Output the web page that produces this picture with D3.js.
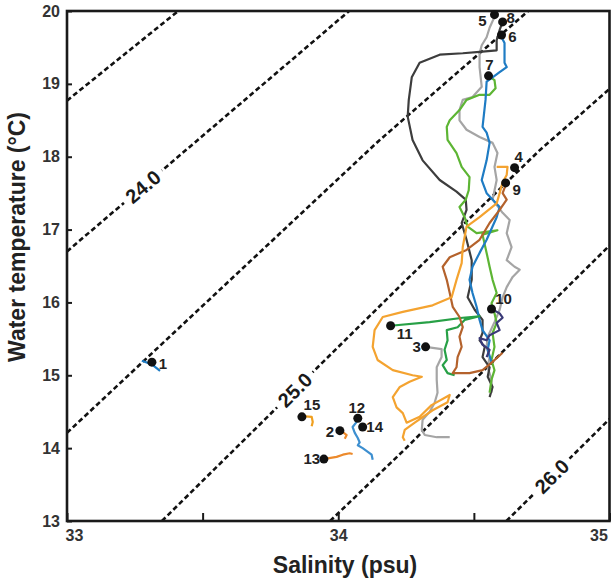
<!DOCTYPE html>
<html>
<head>
<meta charset="utf-8">
<script src="https://cdn.jsdelivr.net/npm/d3@7"></script>
<style>
  body { margin: 0; background: #fff; }
  svg { display: block; font-family: "Liberation Sans", Arial, sans-serif; }
</style>
</head>
<body>
<svg id="chart" width="611" height="578"></svg>
<script>
// axis ticks
const salTicks = [33, 33.5, 34, 34.5, 35];
const tempTicks = [13, 14, 15, 16, 17, 18, 19, 20];

// sigma-t isopycnals, [salinity, temperature]
const isoLevels = ['23.5', '24.0', '24.5', '25.0', '25.5', '26.0'];
const iso235 = [[33, 18.77], [33.41, 20]];
const iso240 = [[33, 16.70], [34.04, 20]];
const iso245 = [[33, 14.21], [34.15, 18.22], [34.53, 19.45], [34.70, 20]];
const iso250 = [[33.35, 13], [34.24, 16.27], [34.74, 18.08], [35, 18.93]];
const iso255 = [[33.97, 13], [34.25, 14.0], [34.85, 16.23], [35, 16.78]];
const iso260 = [[34.62, 13], [35, 14.40]];
const isoLabelled = ['24.0', '25.0', '26.0'];
const isoLabelSal = [33.28, 33.84, 34.787];

// station surface points
const stations = ['1','2','3','4','5','6','7','8','9','10','11','12','13','14','15'];
const dotSal  = [33.313, 34.006, 34.322, 34.650, 34.576, 34.602, 34.554, 34.606, 34.617, 34.565, 34.193, 34.072, 33.947, 34.090, 33.866];
const dotTemp = [15.18, 14.24, 15.39, 17.85, 19.95, 19.67, 19.11, 19.85, 17.64, 15.91, 15.68, 14.41, 13.85, 14.29, 14.43];

// T-S profiles
const prof1 = [[33.276,15.20],[33.313,15.15],[33.343,15.06]];
const prof2 = [[34.017,14.22],[34.031,14.18],[34.024,14.13]];
const prof3 = [[34.322,15.39],[34.381,15.36],[34.381,15.25],[34.363,15.11],[34.363,14.94],[34.366,14.76],[34.355,14.62],[34.337,14.50],[34.311,14.39],[34.308,14.25],[34.319,14.18],[34.363,14.15],[34.411,14.15]];
const prof4 = [[34.584,17.86],[34.624,17.86],[34.621,17.75],[34.606,17.65],[34.595,17.50],[34.584,17.36],[34.521,17.17],[34.473,17.04],[34.459,16.76],[34.455,16.54],[34.436,16.31],[34.418,16.07],[34.348,15.96],[34.238,15.87],[34.164,15.80],[34.134,15.62],[34.127,15.39],[34.145,15.21],[34.201,15.07],[34.274,15.00],[34.308,14.98],[34.263,14.91],[34.227,14.84],[34.201,14.70],[34.215,14.56],[34.238,14.48],[34.252,14.35],[34.300,14.43],[34.344,14.59],[34.411,14.73],[34.403,14.63],[34.348,14.52],[34.282,14.35],[34.245,14.25],[34.238,14.15],[34.245,14.10]];
const prof5 = [[34.576,19.92],[34.558,19.77],[34.547,19.64],[34.529,19.53],[34.521,19.42],[34.521,19.23],[34.529,18.96],[34.495,18.82],[34.459,18.78],[34.447,18.64],[34.447,18.50],[34.473,18.37],[34.521,18.27],[34.569,18.19],[34.587,18.05],[34.576,17.86],[34.584,17.68],[34.569,17.41],[34.606,17.23],[34.632,17.13],[34.621,16.95],[34.639,16.76],[34.621,16.58],[34.650,16.49],[34.669,16.45],[34.643,16.35],[34.621,16.21],[34.606,16.07],[34.595,15.90],[34.576,15.73],[34.551,15.53],[34.547,15.39],[34.558,15.25],[34.551,15.11],[34.565,14.94],[34.565,14.76]];
const prof6 = [[34.602,19.64],[34.613,19.56],[34.613,19.40],[34.613,19.29],[34.621,19.23],[34.595,19.16],[34.569,19.09],[34.547,19.03],[34.543,18.78],[34.532,18.41],[34.547,18.33],[34.558,18.19],[34.547,17.95],[34.529,17.68],[34.547,17.50],[34.595,17.31],[34.584,17.17],[34.547,16.86],[34.521,16.68],[34.495,16.49],[34.484,16.31],[34.495,16.13],[34.510,15.94],[34.521,15.76],[34.532,15.62],[34.558,15.48],[34.551,15.35],[34.565,15.18]];
const prof7 = [[34.554,19.11],[34.576,19.05],[34.580,18.94],[34.558,18.85],[34.521,18.85],[34.473,18.78],[34.447,18.64],[34.411,18.50],[34.400,18.41],[34.403,18.23],[34.436,18.05],[34.455,17.86],[34.484,17.72],[34.481,17.54],[34.470,17.41],[34.447,17.31],[34.466,17.17],[34.477,17.04],[34.510,16.95],[34.587,16.99],[34.532,16.93],[34.547,16.68],[34.558,16.49],[34.569,16.31],[34.584,16.13],[34.565,15.99],[34.576,15.85],[34.584,15.72],[34.569,15.58],[34.576,15.39],[34.565,15.21],[34.576,15.07],[34.565,14.94],[34.558,14.76]];
const prof8 = [[34.606,19.85],[34.595,19.74],[34.584,19.60],[34.584,19.46],[34.521,19.44],[34.459,19.42],[34.374,19.40],[34.300,19.29],[34.271,19.09],[34.260,18.78],[34.256,18.55],[34.274,18.23],[34.311,17.95],[34.374,17.68],[34.436,17.52],[34.470,17.41],[34.473,17.27],[34.455,17.09],[34.473,16.86],[34.492,16.58],[34.492,16.31],[34.477,16.07],[34.503,15.90],[34.532,15.76],[34.532,15.58],[34.521,15.48],[34.540,15.39],[34.532,15.25],[34.558,15.11],[34.551,14.98],[34.569,14.84],[34.558,14.70]];
const prof9 = [[34.617,17.61],[34.606,17.50],[34.621,17.41],[34.595,17.27],[34.558,17.09],[34.521,16.86],[34.473,16.72],[34.411,16.62],[34.385,16.49],[34.400,16.31],[34.411,16.13],[34.422,15.94],[34.447,15.80],[34.459,15.66],[34.447,15.53],[34.455,15.39],[34.440,15.25],[34.436,15.11],[34.422,15.03],[34.484,15.03],[34.532,15.07],[34.558,15.15],[34.606,15.31]];
const prof10 = [[34.565,15.91],[34.595,15.85],[34.606,15.79],[34.584,15.72],[34.595,15.62],[34.558,15.55],[34.547,15.48],[34.521,15.51],[34.532,15.42],[34.558,15.35],[34.547,15.25]];
const prof11 = [[34.193,15.68],[34.337,15.73],[34.459,15.79],[34.521,15.81],[34.466,15.76],[34.440,15.66],[34.400,15.62],[34.403,15.48],[34.392,15.35],[34.400,15.21],[34.385,15.14],[34.403,15.03],[34.429,15.00]];
const prof12 = [[34.068,14.36],[34.053,14.29],[34.061,14.21],[34.072,14.14],[34.079,14.08],[34.072,14.04],[34.090,14.00],[34.109,13.95],[34.123,13.91],[34.127,13.84]];
const prof13 = [[33.961,13.86],[33.994,13.88],[34.017,13.91],[34.042,13.93],[34.053,13.92]];
const prof15 = [[33.866,14.44],[33.902,14.43],[33.906,14.36],[33.902,14.30]];

function whenDocumentLoaded(action) {
  if (document.readyState === "loading") {
    document.addEventListener("DOMContentLoaded", action);
  } else {
    action();
  }
}

function drawChart() {
  const svg = d3.select('#chart');
  const left = 67, right = 609.5, top = 11, bottom = 521;

  const x = d3.scaleLinear().domain([33, 35]).range([left, right]);
  const y = d3.scaleLinear().domain([13, 20]).range([bottom, top]);
  const line = d3.line().x(d => x(d[0])).y(d => y(d[1]));

  svg.append('clipPath').attr('id', 'plot-clip')
    .append('rect')
    .attr('x', left).attr('y', top)
    .attr('width', right - left).attr('height', bottom - top);

  const plot = svg.append('g').attr('clip-path', 'url(#plot-clip)');

  // isopycnals
  const isoLines = [iso235, iso240, iso245, iso250, iso255, iso260];
  plot.selectAll('path.iso')
    .data(isoLines)
    .join('path')
    .attr('class', 'iso')
    .attr('d', line)
    .attr('fill', 'none')
    .attr('stroke', '#111')
    .attr('stroke-width', 2.6)
    .attr('stroke-dasharray', '5,3');

  // labels on isopycnals, with a white gap in the line
  isoLabelled.forEach((lab, i) => {
    const pts = isoLines[isoLevels.indexOf(lab)];
    const s = isoLabelSal[i];
    let k = 0;
    while (k < pts.length - 2 && pts[k + 1][0] < s) k++;
    const a = pts[k], b = pts[k + 1];
    const t = a[1] + (b[1] - a[1]) * (s - a[0]) / (b[0] - a[0]);
    const ang = Math.atan2(y(b[1]) - y(a[1]), x(b[0]) - x(a[0])) * 180 / Math.PI;
    const g = svg.append('g')
      .attr('transform', `translate(${x(s)},${y(t)}) rotate(${ang})`);
    g.append('rect')
      .attr('x', -25).attr('y', -9).attr('width', 50).attr('height', 18)
      .attr('fill', '#fff');
    g.append('text')
      .attr('text-anchor', 'middle')
      .attr('dy', '0.36em')
      .attr('font-size', 20)
      .attr('font-weight', 'bold')
      .attr('fill', '#1a1a1a')
      .text(lab);
  });

  // profiles
  const profiles = [
    { pts: prof5, color: '#a5a5a5' },
    { pts: prof3, color: '#a5a5a5' },
    { pts: prof8, color: '#3d3d3d' },
    { pts: prof7, color: '#5db534' },
    { pts: prof6, color: '#1f7cc4' },
    { pts: prof11, color: '#27a046' },
    { pts: prof9, color: '#b4622c' },
    { pts: prof4, color: '#f4a330' },
    { pts: prof10, color: '#3a3a78' },
    { pts: prof1, color: '#1f7cc4' },
    { pts: prof12, color: '#3d8fd0' },
    { pts: prof2, color: '#ec8a2c' },
    { pts: prof13, color: '#ec8a2c' },
    { pts: prof15, color: '#f0a020' }
  ];
  plot.selectAll('path.prof')
    .data(profiles)
    .join('path')
    .attr('class', 'prof')
    .attr('d', d => line(d.pts))
    .attr('fill', 'none')
    .attr('stroke', d => d.color)
    .attr('stroke-width', 2.2)
    .attr('stroke-linejoin', 'round');

  // frame
  svg.append('rect')
    .attr('x', left).attr('y', top)
    .attr('width', right - left).attr('height', bottom - top)
    .attr('fill', 'none')
    .attr('stroke', '#1a1a1a')
    .attr('stroke-width', 2.6);

  // axes
  const yAxis = svg.append('g')
    .attr('transform', `translate(${left},0)`)
    .call(d3.axisLeft(y).tickValues(tempTicks).tickSize(-5).tickPadding(7)
      .tickFormat(d3.format('d')));
  const xAxis = svg.append('g')
    .attr('transform', `translate(0,${bottom})`)
    .call(d3.axisBottom(x).tickValues(salTicks).tickSize(-8).tickPadding(9)
      .tickFormat(d => Number.isInteger(d) ? d : ''));
  [xAxis, yAxis].forEach(ax => {
    ax.select('.domain').remove();
    ax.selectAll('line').attr('stroke', '#1a1a1a').attr('stroke-width', 2);
    ax.selectAll('text')
      .attr('font-size', 16)
      .attr('font-weight', 'bold')
      .attr('font-family', '"Liberation Sans", Arial, sans-serif')
      .attr('fill', '#333');
  });
  xAxis.selectAll('text').filter(d => d === 33).attr('dx', 7);
  xAxis.selectAll('text').filter(d => d === 35).attr('dx', -11);

  svg.append('text')
    .attr('x', 345).attr('y', 573)
    .attr('text-anchor', 'middle')
    .attr('font-size', 23)
    .attr('font-weight', 'bold')
    .attr('fill', '#222')
    .text('Salinity (psu)');

  svg.append('text')
    .attr('transform', 'translate(25,237) rotate(-90)')
    .attr('text-anchor', 'middle')
    .attr('font-size', 23)
    .attr('font-weight', 'bold')
    .attr('fill', '#222')
    .text('Water temperature (°C)');

  // station dots and numbers
  const labelDx = [11, -10, -9, 4, -12, 11, 1, 8, 11, 12, 14, -1, -12, 12, 10];
  const labelDy = [1, 1, 0, -11, 6, 2, -11, -4, 7, -10, 8, -11, 0, 0, -12];
  const dots = stations.map((id, i) => ({ id, s: dotSal[i], t: dotTemp[i], dx: labelDx[i], dy: labelDy[i] }));

  svg.selectAll('circle.stn')
    .data(dots)
    .join('circle')
    .attr('class', 'stn')
    .attr('cx', d => x(d.s))
    .attr('cy', d => y(d.t))
    .attr('r', 4.5)
    .attr('fill', '#111');

  svg.selectAll('text.stn')
    .data(dots)
    .join('text')
    .attr('class', 'stn')
    .attr('x', d => x(d.s) + d.dx)
    .attr('y', d => y(d.t) + d.dy)
    .attr('dy', '0.36em')
    .attr('text-anchor', 'middle')
    .attr('font-size', 15)
    .attr('font-weight', 'bold')
    .attr('fill', '#222')
    .text(d => d.id);
}

whenDocumentLoaded(drawChart);
</script>
</body>
</html>
